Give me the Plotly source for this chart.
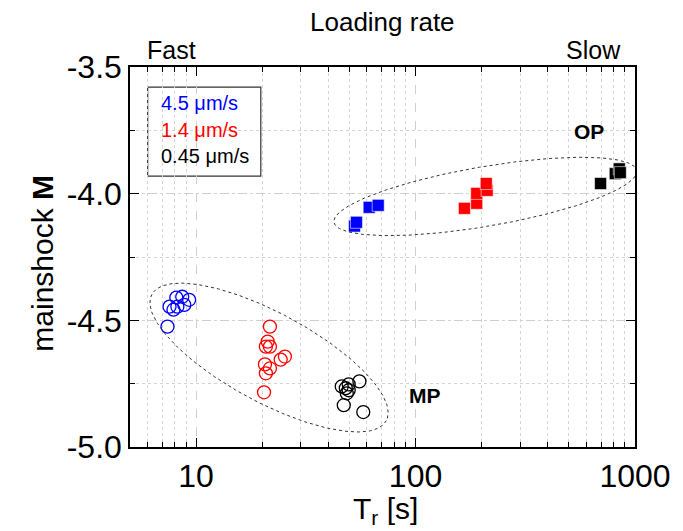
import numpy as np
import plotly.graph_objects as go

# ---- data ----
blue_open_x = [8.13, 8.65, 9.30, 7.57, 8.22, 8.84, 7.89, 7.41]
blue_open_y = [-4.41, -4.407, -4.419, -4.446, -4.446, -4.439, -4.458, -4.525]

red_open_x = [21.7, 21.2, 20.8, 21.7, 25.4, 24.3, 20.6, 21.7, 20.8, 20.4]
red_open_y = [-4.525, -4.584, -4.604, -4.604, -4.643, -4.655, -4.674, -4.690, -4.709, -4.784]

black_open_x = [46.1, 48.1, 49.6, 48.6, 55.5, 47.1, 57.8, 49.6]
black_open_y = [-4.761, -4.768, -4.776, -4.788, -4.741, -4.835, -4.862, -4.753]

blue_sq_x = [52.7, 53.8, 61.5, 67.6]
blue_sq_y = [-4.128, -4.113, -4.054, -4.046]

red_sq_x = [167, 190, 190, 212, 210]
red_sq_y = [-4.058, -4.038, -3.999, -3.987, -3.960]

black_sq_x = [697, 813, 848, 857]
black_sq_y = [-3.960, -3.921, -3.902, -3.917]

rate_labels = ["4.5 \u03bcm/s", "1.4 \u03bcm/s", "0.45 \u03bcm/s"]
rate_colors = ["#0000ff", "#ff0000", "#000000"]

x_major_ticks = [10, 100, 1000]
x_major_text = ["10", "100", "1000"]
x_minor_ticks = [6, 7, 8, 9, 20, 30, 40, 50, 60, 70, 80, 90,
                 200, 300, 400, 500, 600, 700, 800, 900]
y_major_ticks = [-5.0, -4.5, -4.0, -3.5]
y_major_text = ["-5.0", "-4.5", "-4.0", "-3.5"]

FONT = "Liberation Sans, Arial, sans-serif"

fig = go.Figure()

open_sets = [(blue_open_x, blue_open_y, rate_colors[0]),
             (red_open_x, red_open_y, rate_colors[1]),
             (black_open_x, black_open_y, rate_colors[2])]
for xs, ys, c in open_sets:
    fig.add_trace(go.Scatter(x=xs, y=ys, mode="markers", showlegend=False,
                             marker=dict(symbol="circle-open", size=13, color=c,
                                         line=dict(width=1.3, color=c))))

sq_sets = [(blue_sq_x, blue_sq_y, rate_colors[0]),
           (red_sq_x, red_sq_y, rate_colors[1]),
           (black_sq_x, black_sq_y, rate_colors[2])]
for xs, ys, c in sq_sets:
    fig.add_trace(go.Scatter(x=xs, y=ys, mode="markers", showlegend=False,
                             marker=dict(symbol="square", size=12, color=c,
                                         line=dict(width=0.8, color="rgba(255,255,255,0.7)"))))

# ---- dotted ellipses (group outlines) ----
DEC_PX, UNIT_PX = 223.0, 254.7   # screen proportions of one decade / one magnitude unit


def ellipse(cx, cy, a, b, ang_deg):
    t = np.linspace(0, 2 * np.pi, 300)
    th = np.radians(ang_deg)
    dx = a * np.cos(t) * np.cos(th) - b * np.sin(t) * np.sin(th)
    dy = a * np.cos(t) * np.sin(th) + b * np.sin(t) * np.cos(th)
    lx = np.log10(cx) + dx / DEC_PX
    yy = cy - dy / UNIT_PX
    return 10 ** lx, yy


for (cx, cy, a, b, ang) in [(208, -4.011, 156, 30, -9.6), (21.5, -4.647, 135, 45, 28)]:
    ex, ey = ellipse(cx, cy, a, b, ang)
    fig.add_trace(go.Scatter(x=ex, y=ey, mode="lines", showlegend=False, hoverinfo="skip",
                             line=dict(color="#333333", width=1, dash="dot")))

axis_common = dict(showline=True, linecolor="black", linewidth=1.5, mirror="ticks",
                   ticks="inside", ticklen=9, tickwidth=1.2, tickcolor="black",
                   tickfont=dict(family=FONT, size=32, color="black"),
                   showgrid=True, gridcolor="#cfcfcf", gridwidth=1, griddash="dash",
                   zeroline=False)

fig.update_xaxes(type="log", range=[np.log10(5), 3], tickmode="array",
                 tickvals=x_major_ticks, ticktext=x_major_text,
                 minor=dict(tickvals=x_minor_ticks, ticks="inside", ticklen=5, tickcolor="black",
                            tickwidth=1, showgrid=True, gridcolor="#d4d4d4", griddash="dot"),
                 **axis_common)
fig.update_yaxes(range=[-5.0, -3.5], tickmode="array",
                 tickvals=y_major_ticks, ticktext=y_major_text,
                 minor=dict(dtick=0.25, ticks="inside", ticklen=5, tickcolor="black",
                            tickwidth=1, showgrid=True, gridcolor="#d4d4d4", griddash="dot"),
                 **axis_common)

C = dict(xanchor="center", yanchor="middle", showarrow=False)
ann = []
ann.append(dict(text="Loading rate", x=0.5, y=1.118, xref="paper", yref="paper",
                font=dict(family=FONT, size=26, color="black"), **C))
ann.append(dict(text="Fast", x=0.083, y=1.045, xref="paper", yref="paper",
                font=dict(family=FONT, size=25, color="black"), **C))
ann.append(dict(text="Slow", x=0.918, y=1.045, xref="paper", yref="paper",
                font=dict(family=FONT, size=25, color="black"), **C))
ann.append(dict(text="mainshock <b>M</b>", x=-0.175, y=0.484, xref="paper", yref="paper",
                textangle=-90, font=dict(family=FONT, size=30, color="black"), **C))
ann.append(dict(text="T<sub>r</sub> [s]", x=0.506, y=-0.166, xref="paper", yref="paper",
                font=dict(family=FONT, size=30, color="black"), **C))
ann.append(dict(text="<b>OP</b>", x=np.log10(615), y=-3.755, xref="x", yref="y",
                font=dict(family=FONT, size=21, color="black"), **C))
ann.append(dict(text="<b>MP</b>", x=np.log10(110), y=-4.796, xref="x", yref="y",
                font=dict(family=FONT, size=21, color="black"), **C))
for i, (lab, col) in enumerate(zip(rate_labels, rate_colors)):
    ann.append(dict(text=lab, x=0.058, y=0.905 - i * 0.07, xref="paper", yref="paper",
                    xanchor="left", yanchor="middle", showarrow=False,
                    font=dict(family=FONT, size=20, color=col)))

fig.update_layout(
    width=683, height=531,
    margin=dict(l=130, r=40, t=67, b=84),
    paper_bgcolor="white", plot_bgcolor="white",
    annotations=ann,
    shapes=[dict(type="rect", xref="paper", yref="paper", x0=0.035, x1=0.259, y0=0.713, y1=0.947,
                 line=dict(color="#333333", width=1.2), fillcolor="white", layer="below")],
    showlegend=False,
)

fig.write_html("out.html")
